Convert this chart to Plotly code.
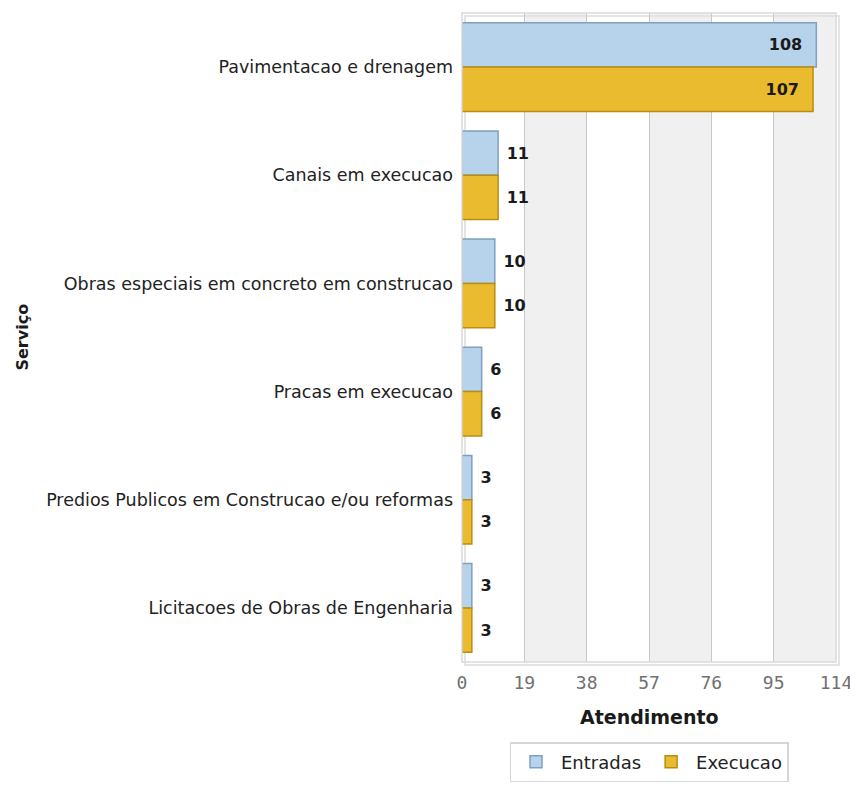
import plotly.graph_objects as go

categories = [
    "Pavimentacao e drenagem",
    "Canais em execucao",
    "Obras especiais em concreto em construcao",
    "Pracas em execucao",
    "Predios Publicos em Construcao e/ou reformas",
    "Licitacoes de Obras de Engenharia",
]
entradas = [108, 11, 10, 6, 3, 3]
execucao = [107, 11, 10, 6, 3, 3]
tick_vals = [0, 19, 38, 57, 76, 95, 114]

# figure sits at 8px body margin in the page
W, H = 850, 779
L, R, T, B = 454, 22, 5, 125
PW, PH = W - L - R, H - T - B


def positions(vals):
    return ["inside" if v > 50 else "outside" for v in vals]


def templates(vals):
    return ["%{x}  " if v > 50 else " %{x}" for v in vals]


label_font = dict(family="DejaVu Sans", size=16, color="#1a1a1a", weight="bold")

fig = go.Figure()
fig.add_trace(go.Bar(
    name="Entradas", y=categories, x=entradas, orientation="h",
    marker=dict(color="#b7d2eb", line=dict(color="#7f9fc0", width=1.5)),
    texttemplate=templates(entradas), textposition=positions(entradas),
    insidetextanchor="end", textfont=label_font, cliponaxis=False,
))
fig.add_trace(go.Bar(
    name="Execucao", y=categories, x=execucao, orientation="h",
    marker=dict(color="#eabb2e", line=dict(color="#b88e10", width=1.5)),
    texttemplate=templates(execucao), textposition=positions(execucao),
    insidetextanchor="end", textfont=label_font, cliponaxis=False,
))

shapes = []
for i in range(1, len(tick_vals) - 1, 2):
    shapes.append(dict(type="rect", xref="x", yref="paper",
                       x0=tick_vals[i], x1=tick_vals[i + 1], y0=0, y1=1,
                       fillcolor="#f0f0f0", line=dict(width=0), layer="below"))
# soft shadow + border of the plot area
shapes.append(dict(type="rect", xref="paper", yref="paper",
                   x0=3 / PW, x1=1 + 3 / PW, y0=-3 / PH, y1=1 - 3 / PH,
                   line=dict(color="#e4e4e4", width=2), layer="below"))
shapes.append(dict(type="rect", xref="paper", yref="paper", x0=0, x1=1, y0=0, y1=1,
                   line=dict(color="#dadada", width=1.5), layer="above"))

fig.update_layout(
    width=W, height=H,
    margin=dict(l=L, r=R, t=T, b=B),
    paper_bgcolor="white", plot_bgcolor="white",
    barmode="group", bargap=0.18, bargroupgap=0.0,
    shapes=shapes,
    font=dict(family="DejaVu Sans", size=17.5, color="#222"),
    xaxis=dict(range=[0, 114], tickvals=tick_vals, showgrid=True,
               gridcolor="#c8c8c8", gridwidth=1, zeroline=False,
               tickfont=dict(family="DejaVu Sans Mono", size=18, color="#707070"),
               ticks="", ticklabelstandoff=8, automargin=False),
    yaxis=dict(autorange="reversed", showgrid=False, ticks="",
               tickfont=dict(family="DejaVu Sans", size=17.5, color="#222"),
               ticklabelstandoff=8, automargin=False),
    legend=dict(orientation="h", x=0.5, xanchor="center",
                y=-(734 - (H - B)) / PH, yanchor="top",
                bordercolor="#d6d6d6", borderwidth=1.5, bgcolor="white",
                font=dict(family="DejaVu Sans", size=18, color="#222"),
                itemwidth=40),
    showlegend=True,
)
fig.add_annotation(text="Atendimento", xref="paper", yref="paper",
                   x=0.5, y=-(709 - (H - B)) / PH, showarrow=False,
                   xanchor="center", yanchor="middle",
                   font=dict(family="DejaVu Sans", size=19, color="#1a1a1a", weight="bold"))
fig.add_annotation(text="Serviço", xref="paper", yref="paper",
                   x=(14 - L) / PW, y=0.5, textangle=-90, showarrow=False,
                   xanchor="center", yanchor="middle",
                   font=dict(family="DejaVu Sans", size=16, color="#1a1a1a", weight="bold"))

fig.write_html("out.html")
